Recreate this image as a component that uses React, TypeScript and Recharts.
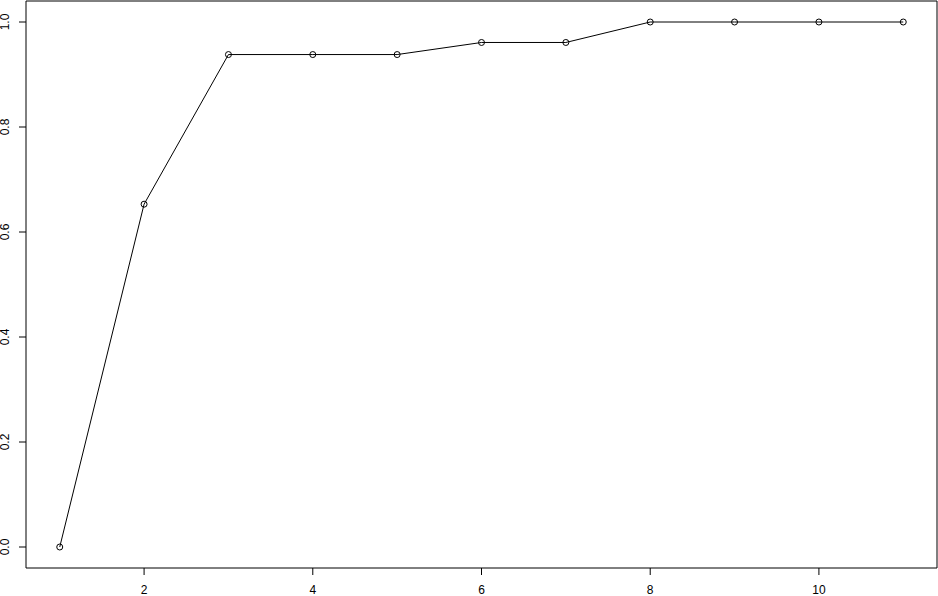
import React from "react";
import { LineChart, Line, XAxis, YAxis, ReferenceArea } from "recharts";

const xValues = [1, 2, 3, 4, 5, 6, 7, 8, 9, 10, 11];
const yValues = [0, 0.653, 0.938, 0.938, 0.938, 0.961, 0.961, 1, 1, 1, 1];
const xTicks = [2, 4, 6, 8, 10];
const yTicks = [0, 0.2, 0.4, 0.6, 0.8, 1.0];

const data = xValues.map((x, i) => ({ x, y: yValues[i] }));

const FONT = "'Liberation Sans', Arial, sans-serif";

const XTick = (props: any) => {
  const { x, y, payload } = props;
  return (
    <text x={x} y={y + 17} textAnchor="middle" fontFamily={FONT} fontSize={12} fill="#000">
      {String(payload.value)}
    </text>
  );
};

const YTick = (props: any) => {
  const { x, y, payload } = props;
  const bx = x - 8;
  return (
    <text
      x={bx}
      y={y}
      textAnchor="middle"
      transform={`rotate(-90, ${bx}, ${y})`}
      fontFamily={FONT}
      fontSize={12}
      fill="#000"
    >
      {Number(payload.value).toFixed(1)}
    </text>
  );
};

const Dot = (props: any) => {
  const { cx, cy } = props;
  if (cx == null || cy == null) return null;
  return <circle cx={cx} cy={cy} r={3} fill="none" stroke="#000" strokeWidth={1} />;
};

export default function App() {
  return (
    <div style={{ position: "absolute", left: 0, top: 0, width: 938, height: 596, background: "#fff" }}>
      <LineChart width={938} height={596} data={data} margin={{ top: 1, right: 1, bottom: 1, left: 0 }}>
        <XAxis
          type="number"
          dataKey="x"
          domain={[0.6, 11.4]}
          ticks={xTicks}
          allowDataOverflow
          axisLine={false}
          tickLine={{ stroke: "#000" }}
          tickSize={7}
          height={27}
          tick={<XTick />}
          interval={0}
        />
        <YAxis
          type="number"
          domain={[-0.04, 1.04]}
          ticks={yTicks}
          allowDataOverflow
          axisLine={false}
          tickLine={{ stroke: "#000" }}
          tickSize={7}
          width={26}
          tick={<YTick />}
          interval={0}
        />
        <ReferenceArea
          x1={0.6}
          x2={11.4}
          y1={-0.04}
          y2={1.04}
          fill="none"
          fillOpacity={0}
          stroke="#000"
          strokeWidth={1}
          ifOverflow="visible"
        />
        <Line
          type="linear"
          dataKey="y"
          stroke="#000"
          strokeWidth={1}
          dot={<Dot />}
          activeDot={false}
          isAnimationActive={false}
        />
      </LineChart>
    </div>
  );
}
